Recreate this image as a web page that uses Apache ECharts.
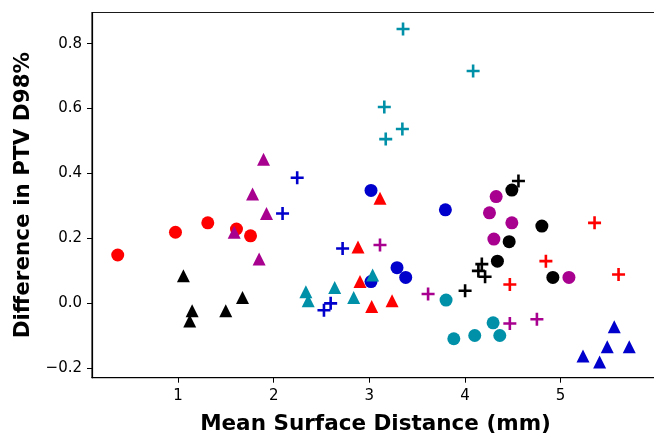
<!DOCTYPE html>
<html>
<head>
<meta charset="utf-8">
<script src="https://cdn.jsdelivr.net/npm/echarts/dist/echarts.min.js"></script>
<style>
html,body{margin:0;padding:0;background:#fff;}
#chart{width:654px;height:433px;}
</style>
</head>
<body>
<div id="chart"></div>
<script>
// ---- data ([x, y] pairs) ----
var redCircles     = [[0.369,0.149],[0.973,0.219],[1.311,0.248],[1.611,0.229],[1.758,0.208]];
var blackCircles   = [[4.491,0.349],[4.463,0.190],[4.340,0.130],[4.805,0.238],[4.920,0.080]];
var magentaCircles = [[4.327,0.329],[4.257,0.279],[4.491,0.248],[4.303,0.198],[5.088,0.080]];
var tealCircles    = [[3.803,0.010],[4.295,-0.060],[4.103,-0.099],[4.365,-0.099],[3.884,-0.109]];
var blueCircles    = [[3.018,0.348],[3.018,0.067],[3.290,0.110],[3.381,0.080],[3.796,0.288]];

var redTriangles     = [[3.112,0.324],[2.882,0.174],[2.903,0.067],[3.025,-0.010],[3.238,0.008]];
var blackTriangles   = [[1.056,0.085],[1.674,0.018],[1.147,-0.023],[1.122,-0.054],[1.499,-0.023]];
var magentaTriangles = [[1.894,0.444],[1.779,0.337],[1.925,0.277],[1.587,0.219],[1.848,0.137]];
var tealTriangles    = [[2.337,0.036],[2.361,0.008],[2.638,0.049],[2.837,0.018],[3.035,0.087]];
var blueTriangles    = [[5.562,-0.072],[5.489,-0.134],[5.719,-0.134],[5.235,-0.162],[5.409,-0.181]];

var redPluses     = [[5.356,0.248],[4.847,0.130],[5.607,0.089],[4.470,0.058]];
var blackPluses   = [[4.560,0.377],[4.177,0.121],[4.141,0.100],[4.211,0.082],[4.002,0.039]];
var magentaPluses = [[3.112,0.180],[3.615,0.029],[4.470,-0.062],[4.753,-0.049]];
var tealPluses    = [[3.353,0.845],[4.086,0.716],[3.157,0.605],[3.346,0.537],[3.172,0.506]];
var bluePluses    = [[2.246,0.387],[2.093,0.277],[2.721,0.169],[2.526,-0.021],[2.596,0.000]];

var xTicks = [1, 2, 3, 4, 5];
var yTicks = [-0.2, 0.0, 0.2, 0.4, 0.6, 0.8];
var xTitle = 'Mean Surface Distance (mm)';
var yTitle = 'Difference in PTV D98%';

// ---- styling ----
var COLORS = {red:'#ff0000', black:'#000000', magenta:'#a8008f', teal:'#0090a8', blue:'#0000cc'};
var PLUS = 'path://M0.4,0 H0.6 V0.4 H1 V0.6 H0.6 V1 H0.4 V0.6 H0 V0.4 H0.4 Z';

function mk(data, color, symbol, size) {
  return {
    type: 'scatter', data: data, symbol: symbol, symbolSize: size,
    itemStyle: {color: color, opacity: 1}, emphasis: {disabled: true}, silent: true
  };
}

var series = [
  mk(redCircles, COLORS.red, 'circle', 13),
  mk(blackCircles, COLORS.black, 'circle', 13),
  mk(magentaCircles, COLORS.magenta, 'circle', 13),
  mk(tealCircles, COLORS.teal, 'circle', 13),
  mk(blueCircles, COLORS.blue, 'circle', 13),
  mk(redTriangles, COLORS.red, 'triangle', 13),
  mk(blackTriangles, COLORS.black, 'triangle', 13),
  mk(magentaTriangles, COLORS.magenta, 'triangle', 13),
  mk(tealTriangles, COLORS.teal, 'triangle', 13),
  mk(blueTriangles, COLORS.blue, 'triangle', 13),
  mk(redPluses, COLORS.red, PLUS, 13),
  mk(blackPluses, COLORS.black, PLUS, 13),
  mk(magentaPluses, COLORS.magenta, PLUS, 13),
  mk(tealPluses, COLORS.teal, PLUS, 13),
  mk(bluePluses, COLORS.blue, PLUS, 13)
];

var chart = echarts.init(document.getElementById('chart'), null, {renderer: 'canvas'});
chart.setOption({
  animation: false,
  backgroundColor: '#ffffff',
  grid: {left: 92, right: -5, top: 12.5, bottom: 55.3, show: true, containLabel: false, outerBoundsMode: 'none',
    borderColor: '#1a1a1a', borderWidth: 1.2, backgroundColor: 'transparent'},
  xAxis: {
    type: 'value', min: 0.1, max: 6.03,
    name: xTitle, nameLocation: 'middle', nameGap: 36,
    nameTextStyle: {fontFamily: 'DejaVu Sans', fontWeight: 'bold', fontSize: 21.5, color: '#000'},
    axisLine: {show: true, onZero: false, lineStyle: {color: '#000', width: 1.2}},
    splitLine: {show: false},
    axisTick: {show: true, inside: false, customValues: xTicks, length: 5, lineStyle: {color: '#000', width: 1}},
    axisLabel: {customValues: xTicks, margin: 11, fontFamily: 'DejaVu Sans', fontSize: 15, color: '#000',
      formatter: function (v) { return String(v); }}
  },
  yAxis: {
    type: 'value', min: -0.229, max: 0.896,
    name: yTitle, nameLocation: 'middle', nameGap: 56, nameRotate: 90,
    nameTextStyle: {fontFamily: 'DejaVu Sans', fontWeight: 'bold', fontSize: 21.5, color: '#000'},
    axisLine: {show: true, onZero: false, lineStyle: {color: '#000', width: 1.2}},
    splitLine: {show: false},
    axisTick: {show: true, inside: false, customValues: yTicks, length: 5, lineStyle: {color: '#000', width: 1}},
    axisLabel: {customValues: yTicks, margin: 10, fontFamily: 'DejaVu Sans', fontSize: 15, color: '#000',
      formatter: function (v) { return v.toFixed(1).replace('-', '\u2212'); }}
  },
  series: series
});
</script>
</body>
</html>
